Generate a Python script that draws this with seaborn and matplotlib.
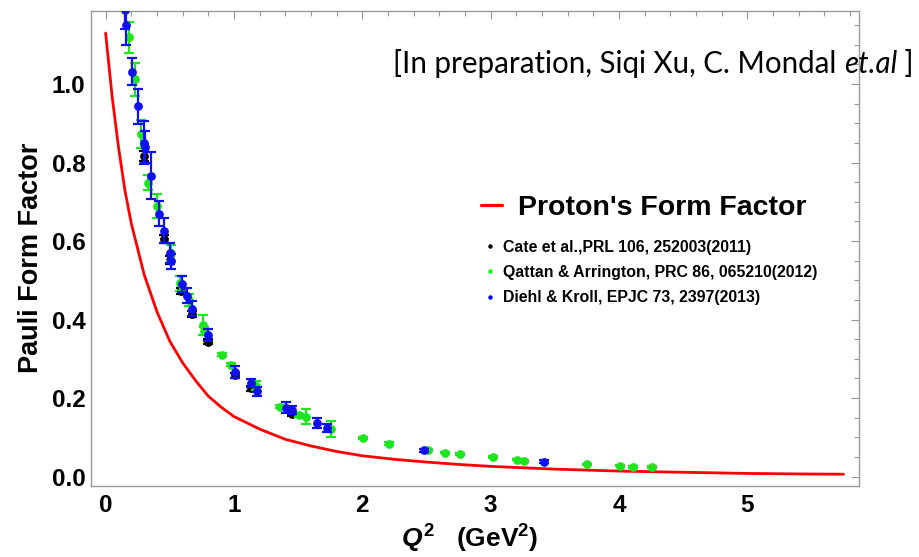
import numpy as np
import pandas as pd
import matplotlib
matplotlib.use("Agg")
import matplotlib.pyplot as plt
import seaborn as sns
from matplotlib.lines import Line2D
from matplotlib.ticker import MultipleLocator

# ---------------- data ----------------
curve_q2 = [0.0, 0.05, 0.1, 0.15, 0.2, 0.3, 0.4, 0.5, 0.6, 0.7, 0.8, 0.9, 1.0,
            1.2, 1.4, 1.6, 1.8, 2.0, 2.25, 2.5, 2.75, 3.0, 3.5, 4.0, 4.5, 5.0,
            5.5, 5.75]
curve_f2 = [1.13, 0.97, 0.84, 0.73, 0.645, 0.515, 0.42, 0.345, 0.29, 0.245,
            0.205, 0.177, 0.153, 0.121, 0.095, 0.078, 0.064, 0.053, 0.044,
            0.037, 0.031, 0.026, 0.019, 0.014, 0.011, 0.008, 0.0065, 0.006]

cate_q2 = [0.299, 0.455, 0.499, 0.585, 0.676, 0.798, 1.006, 1.131, 1.451]
cate_f2 = [0.817, 0.606, 0.552, 0.473, 0.415, 0.344, 0.258, 0.225, 0.159]
cate_err = [0.012, 0.010, 0.010, 0.008, 0.008, 0.007, 0.006, 0.006, 0.005]

qattan_q2 = [0.182, 0.226, 0.273, 0.333, 0.398, 0.51, 0.577, 0.65, 0.759, 0.77,
             0.905, 0.98, 1.17, 1.36, 1.508, 1.565, 1.76, 2.007, 2.21, 2.51,
             2.647, 2.761, 3.016, 3.206, 3.258, 3.752, 4.012, 4.108, 4.259]
qattan_f2 = [1.119, 1.012, 0.873, 0.749, 0.689, 0.57, 0.492, 0.45, 0.387, 0.37,
             0.311, 0.285, 0.232, 0.178, 0.156, 0.153, 0.121, 0.098, 0.084,
             0.067, 0.061, 0.057, 0.050, 0.043, 0.040, 0.031, 0.028, 0.025,
             0.025]
qattan_err = [0.04, 0.043, 0.035, 0.02, 0.03, 0.02, 0.02, 0.015, 0.025, 0.01,
              0.004, 0.004, 0.012, 0.004, 0.004, 0.02, 0.02, 0.003, 0.003,
              0.003, 0.002, 0.002, 0.002, 0.002, 0.002, 0.002, 0.002, 0.002,
              0.002]

diehl_q2 = [0.148, 0.161, 0.208, 0.252, 0.299, 0.305, 0.351, 0.416, 0.455,
            0.499, 0.507, 0.593, 0.632, 0.676, 0.801, 1.006, 1.136, 1.183,
            1.404, 1.451, 1.651, 1.729, 2.483, 3.419]
diehl_f2 = [1.19, 1.150, 1.032, 0.943, 0.851, 0.840, 0.766, 0.670, 0.626,
            0.569, 0.548, 0.490, 0.461, 0.428, 0.360, 0.267, 0.238, 0.217,
            0.176, 0.169, 0.136, 0.123, 0.067, 0.038]
diehl_err = [0.05, 0.05, 0.035, 0.044, 0.055, 0.04, 0.06, 0.032, 0.032, 0.025,
             0.02, 0.02, 0.02, 0.02, 0.015, 0.015, 0.01, 0.012, 0.015, 0.01,
             0.013, 0.01, 0.004, 0.004]

curve_label = "Proton's Form Factor"
series_labels = ["Cate et al.,PRL 106, 252003(2011)",
                 "Qattan & Arrington, PRC 86, 065210(2012)",
                 "Diehl & Kroll, EPJC 73, 2397(2013)"]
x_ticks = [0, 1, 2, 3, 4, 5]
y_ticks = [0.0, 0.2, 0.4, 0.6, 0.8, 1.0]

# ---------------- style ----------------
sns.set_theme(style="white")
plt.rcParams["font.family"] = ["Liberation Sans", "DejaVu Sans"]
plt.rcParams["font.weight"] = "bold"
plt.rcParams["text.color"] = "black"
plt.rcParams["axes.labelcolor"] = "black"
plt.rcParams["xtick.labelcolor"] = "black"
plt.rcParams["ytick.labelcolor"] = "black"
plt.rcParams["mathtext.fontset"] = "custom"
plt.rcParams["mathtext.rm"] = "Liberation Sans:bold"
plt.rcParams["mathtext.it"] = "Liberation Sans:italic:bold"
plt.rcParams["mathtext.bf"] = "Liberation Sans:bold"

W, H = 920, 557
fig = plt.figure(figsize=(W / 100, H / 100), dpi=100)
fig.patch.set_facecolor("white")
ax = fig.add_axes([91 / W, 71 / H, 768 / W, 475.3 / H])
ax.set_facecolor("white")

GREEN = "#1ee61e"
BLUE = "#1010f5"

curve_df = pd.DataFrame({"q2": curve_q2, "f2": curve_f2})
sns.lineplot(data=curve_df, x="q2", y="f2", color="#ff0000", lw=2.0,
             sort=False, estimator=None, ax=ax, zorder=2)

series = [
    (cate_q2, cate_f2, cate_err, "black", 3),
    (qattan_q2, qattan_f2, qattan_err, GREEN, 5),
    (diehl_q2, diehl_f2, diehl_err, BLUE, 7),
]
for q, f, e, c, z in series:
    df = pd.DataFrame({"q2": q, "f2": f, "err": e})
    ax.errorbar(df["q2"], df["f2"], yerr=df["err"], fmt="none", ecolor=c,
                elinewidth=1.6, capsize=3.5, capthick=1.6, zorder=z)
    sns.scatterplot(data=df, x="q2", y="f2", color=c, s=40, linewidth=0,
                    ax=ax, zorder=z + 0.5, legend=False)

ax.set_xlim(-0.114, 5.871)
ax.set_ylim(-0.024, 1.187)
ax.set_xticks(x_ticks)
ax.set_yticks(y_ticks)
ax.set_yticklabels([f"{v:.1f}" for v in y_ticks])
ax.xaxis.set_minor_locator(MultipleLocator(0.2))
ax.yaxis.set_minor_locator(MultipleLocator(0.05))
ax.tick_params(which="both", direction="in", top=True, right=True,
               color="#9a9a9a", width=0.8)
ax.tick_params(which="major", length=6)
ax.tick_params(which="minor", length=3.5)
ax.tick_params(axis="x", which="major", labelsize=17.5, pad=5.5,
               labelcolor="black")
ax.tick_params(axis="y", which="major", labelsize=17.5, pad=4,
               labelcolor="black")
for sp in ax.spines.values():
    sp.set_color("#9a9a9a")
    sp.set_linewidth(1.0)

ax.set_xlabel(r"$Q^2$   (GeV$^2$)", fontsize=19, fontweight="bold",
              color="black")
ax.set_ylabel("Pauli Form Factor", fontsize=19.5, fontweight="bold",
              color="black")
ax.xaxis.set_label_coords(0.4935, -0.077)
ax.yaxis.set_label_coords(-0.061, 0.481)

# ---------------- legends ----------------
ident = fig.dpi_scale_trans.inverted() + fig.dpi_scale_trans
leg1 = ax.legend(handles=[Line2D([], [], color="#ff0000", lw=2.3)],
                 labels=[curve_label], prop={"size": 20.5, "weight": "bold"},
                 loc="center left", frameon=False, borderpad=0,
                 borderaxespad=0, handlelength=0.73, handletextpad=0.58)
leg1.set_bbox_to_anchor((481, H - 208), transform=ident)
for t in leg1.get_texts():
    t.set_color("black")
ax.add_artist(leg1)

dots = [Line2D([], [], ls="none", marker="o", markersize=3.2,
               markerfacecolor=c, markeredgewidth=0)
        for c in ["black", "#00ff00", "#0000ff"]]
leg2 = ax.legend(handles=dots, labels=series_labels,
                 prop={"size": 11.4, "weight": "bold"},
                 loc="center left", frameon=False, borderpad=0,
                 borderaxespad=0, handlelength=0.8, handletextpad=0.4,
                 labelspacing=0.65)
leg2.set_bbox_to_anchor((484, H - 272.5), transform=ident)
for t in leg2.get_texts():
    t.set_color("black")

# ---------------- annotation ----------------
fig.canvas.draw()
renderer = fig.canvas.get_renderer()
parts = [("[In preparation, Siqi Xu, C. Mondal ", "normal"),
         ("et.al", "italic"), (" ]", "normal")]
fs = 17.0
x0 = 393
texts = []
for s, style in parts:
    t = fig.text(0, 0, s, fontsize=fs, family="Lato", style=style,
                 fontweight="normal", color="black", va="baseline", ha="left",
                 transform=None)
    texts.append(t)
widths = [t.get_window_extent(renderer).width for t in texts]
scale = 520.0 / sum(widths)
for t in texts:
    t.set_fontsize(fs * scale)
fig.canvas.draw()
xx = x0
for t in texts:
    t.set_position((xx, H - 73))
    xx += t.get_window_extent(renderer).width

fig.savefig("out.png", dpi=100, facecolor="white")
